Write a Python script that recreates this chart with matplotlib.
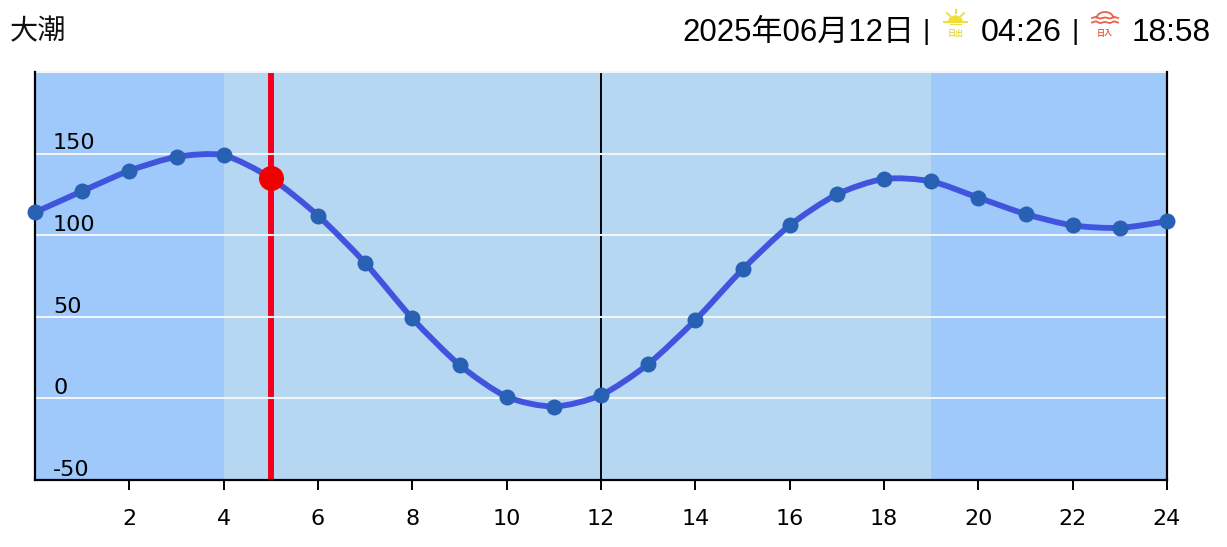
import matplotlib
matplotlib.use('Agg')
import matplotlib.pyplot as plt
from matplotlib.path import Path
from matplotlib.patches import PathPatch, Rectangle, Arc, Polygon
import numpy as np

hours = list(range(25))
tide = [114, 127, 139.5, 148, 149, 135, 112, 83, 49, 20.5, 1, -5, 2, 21, 48, 79, 106, 125, 134.5, 133, 123, 113, 106, 104.5, 108.5]
sunrise_hour = 4
sunset_hour = 19
now_hour = 5
now_tide = 135
x_ticks = list(range(2, 25, 2))
y_labels = [-50, 0, 50, 100, 150]
y_grid = [0, 50, 100, 150, 200]

title = '大潮'
date_text = '2025年06月12日'
sunrise_text = '04:26'
sunset_text = '18:58'

W, H = 1227, 547
CJK = ['Liberation Sans', 'Noto Sans CJK JP']
plt.rcParams['font.family'] = CJK

fig = plt.figure(figsize=(W / 100, H / 100), dpi=100)
ax = fig.add_axes([35 / W, 1 - 480 / H, (1167 - 35) / W, (480 - 72) / H])
ax.set_xlim(0, 24)
ax.set_ylim(-50, 200)

# day / night background
ax.set_facecolor('#9fc8fb')
ax.axvspan(sunrise_hour, sunset_hour, color='#b5d7f1', lw=0, zorder=0)

# current time bar and noon line sit under the grid
ax.axvline(now_hour, color='#f0001e', lw=4.3, zorder=1)
ax.axvline(12, color='black', lw=1.4, zorder=1)
for g in y_grid:
    ax.axhline(g, color='#f2f5f8', lw=1.5, zorder=2, clip_on=False)


def smooth_path(xs, ys, k=8.0):
    # catmull-rom through the hourly readings, as bezier segments
    xs = np.asarray(xs, float)
    ys = np.asarray(ys, float)
    verts = [(xs[0], ys[0])]
    codes = [Path.MOVETO]
    for i in range(len(xs) - 1):
        a = max(i - 1, 0)
        b = min(i + 2, len(xs) - 1)
        verts.append((xs[i] + (xs[i + 1] - xs[a]) / k, ys[i] + (ys[i + 1] - ys[a]) / k))
        verts.append((xs[i + 1] - (xs[b] - xs[i]) / k, ys[i + 1] - (ys[b] - ys[i]) / k))
        verts.append((xs[i + 1], ys[i + 1]))
        codes += [Path.CURVE4] * 3
    return Path(verts, codes)


ax.add_patch(PathPatch(smooth_path(hours, tide), fc='none', ec='#4154de', lw=4.2, zorder=3, clip_on=False))
ax.plot(hours, tide, ls='none', marker='o', ms=11.5, mfc='#2860b4', mec='none', zorder=4, clip_on=False)
ax.plot([now_hour], [now_tide], ls='none', marker='o', ms=18, mfc='#f10000', mec='none', zorder=5)

ax.spines['top'].set_visible(False)
for s in ['left', 'bottom', 'right']:
    ax.spines[s].set_linewidth(1.6)
    ax.spines[s].set_zorder(3.5)

ax.set_xticks(x_ticks)
ax.set_xticklabels([str(t) for t in x_ticks], family='DejaVu Sans', fontsize=16)
ax.tick_params(axis='x', length=7, width=1.4, pad=14)
ax.set_yticks([])
for v in y_labels:
    ax.annotate(str(v), (0, v), xytext=(13, 3), textcoords='offset points', family='DejaVu Sans',
                fontsize=16, va='baseline', ha='left', zorder=6)

# header, in pixel coordinates
top = fig.add_axes([0, 0, 1, 1], zorder=10)
top.set_xlim(0, W)
top.set_ylim(H, 0)
top.axis('off')
top.patch.set_alpha(0)
top.text(10, 31, title, fontsize=20.3, family=['Noto Sans CJK JP'], va='center', ha='left', color='#111111')
top.text(914, 33, date_text, fontsize=22.4, va='center', ha='right', color='black')
top.text(926, 32, '|', fontsize=20, va='center', ha='center', color='black')
top.text(981, 33, sunrise_text, fontsize=23.2, va='center', ha='left', color='black')
top.text(1075, 32, '|', fontsize=20, va='center', ha='center', color='black')
top.text(1132, 33, sunset_text, fontsize=22.8, va='center', ha='left', color='black')

# sunrise icon
SUN = '#eedf3a'
top.add_patch(Polygon([(948, 21), (950, 17), (955.5, 15), (961, 17), (963, 21)], closed=True, fc=SUN, ec='none'))
top.add_patch(Rectangle((943, 20.5), 25, 2, fc=SUN, ec='none'))
top.add_patch(Rectangle((950, 23.5), 12, 1.2, fc=SUN, ec='none'))
for p, q in [((947, 13), (950, 16)), ((955.5, 9.5), (955.5, 13)), ((964, 13), (961, 16))]:
    top.plot([p[0], q[0]], [p[1], q[1]], color=SUN, lw=1.4)
top.text(955.5, 33.5, '日出', fontsize=5.8, family=['Noto Sans CJK JP'], weight='bold', color='#e9d94b', ha='center', va='center')

# sunset icon
SET = '#e9604c'
top.add_patch(Arc((1105, 18.5), 17, 13, theta1=180, theta2=360, color=SET, lw=1.3))
wave_x = [1092, 1096, 1100, 1105, 1110, 1114, 1118]
wave_y = [0, -1.2, 0.6, -0.6, 0.6, -1.2, 0]
for off in [18, 22.5]:
    top.plot(wave_x, [off + w for w in wave_y], color=SET, lw=1.3)
top.text(1105, 33.5, '日入', fontsize=5.8, family=['Noto Sans CJK JP'], weight='bold', color=SET, ha='center', va='center')

fig.savefig('out.png', dpi=100)
